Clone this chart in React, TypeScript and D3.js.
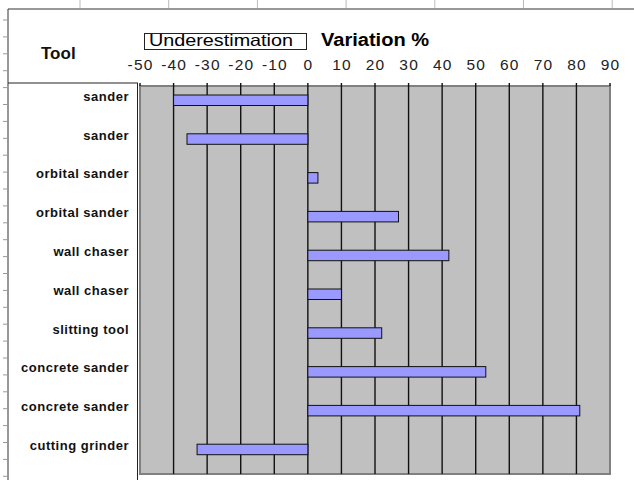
import React from 'react';
import * as d3 from 'd3';

// tools, top to bottom
const tools = [
  'sander',
  'sander',
  'orbital sander',
  'orbital sander',
  'wall chaser',
  'wall chaser',
  'slitting tool',
  'concrete sander',
  'concrete sander',
  'cutting grinder',
];

// variation % per tool
const variation = [-40, -36, 3, 27, 42, 10, 22, 53, 81, -33];

const xTicks = [-50, -40, -30, -20, -10, 0, 10, 20, 30, 40, 50, 60, 70, 80, 90];

const W = 634;
const H = 480;
const plot = { left: 140, right: 610, top: 86, bottom: 474 };
const font = 'Arial, "Liberation Sans", sans-serif';

const App = () => {
  const x = d3.scaleLinear().domain([-50, 90]).range([plot.left, plot.right]);
  const y = d3
    .scaleBand<number>()
    .domain(d3.range(tools.length))
    .range([plot.top, plot.bottom]);

  const barOffset = 9; // bars sit in the upper part of each band
  const barH = 10.5;

  return (
    <svg
      width={W}
      height={H}
      style={{ position: 'absolute', left: 0, top: 0, background: '#fff' }}
    >
      <rect x={0} y={0} width={W} height={H} fill="#fff" />

      {/* faint sheet ticks along top and left edges */}
      {d3.range(80, W, 88.7).map((t, i) => (
        <line key={'tt' + i} x1={t} x2={t} y1={0} y2={8} stroke="#bbb" />
      ))}
      {d3.range(20, H, 16.9).map((t, i) => (
        <line key={'lt' + i} x1={3} x2={7} y1={t} y2={t} stroke="#999" />
      ))}

      {/* outer frame */}
      <line x1={8} x2={W} y1={9} y2={9} stroke="#333" />
      <line x1={8} x2={8} y1={9} y2={H} stroke="#333" />

      {/* table cell for tool names */}
      <line x1={8} x2={138} y1={83} y2={83} stroke="#222" />
      <line x1={137.5} x2={137.5} y1={83} y2={H} stroke="#222" />

      {/* header texts */}
      <text x={41} y={59} fontFamily={font} fontSize={17} fontWeight="bold" fill="#111">
        Tool
      </text>
      <rect x={144.5} y={33.5} width={162} height={16} fill="#fff" stroke="#222" />
      <text
        x={149}
        y={46}
        fontFamily={font}
        fontSize={16.5}
        fill="#000"
        textLength={144}
        lengthAdjust="spacingAndGlyphs"
      >
        Underestimation
      </text>
      <text
        x={321}
        y={45.5}
        fontFamily={font}
        fontSize={18}
        fontWeight="bold"
        fill="#000"
        textLength={108}
        lengthAdjust="spacingAndGlyphs"
      >
        Variation %
      </text>

      {/* plot area */}
      <rect
        x={plot.left}
        y={plot.top}
        width={plot.right - plot.left}
        height={plot.bottom - plot.top}
        fill="#C0C0C0"
        stroke="#808080"
        strokeWidth={2}
      />

      {/* gridlines and tick marks */}
      {xTicks.map((t) => {
        const inner = t > -50 && t < 90;
        return (
          <line
            key={'g' + t}
            x1={x(t)}
            x2={x(t)}
            y1={83}
            y2={inner ? plot.bottom : plot.top}
            stroke="#111"
            strokeWidth={1.4}
          />
        );
      })}

      {/* tick labels */}
      {xTicks.map((t) => (
        <text
          key={'l' + t}
          x={x(t)}
          dx={0.6}
          y={70}
          textAnchor="middle"
          fontFamily={font}
          fontSize={15.5}
          letterSpacing={1.2}
          fill="#222"
        >
          {t}
        </text>
      ))}

      {/* bars */}
      {variation.map((v, i) => (
        <rect
          key={'b' + i}
          x={Math.min(x(0), x(v))}
          y={(y(i) as number) + barOffset}
          width={Math.abs(x(v) - x(0))}
          height={barH}
          fill="#9999FF"
          stroke="#111"
          strokeWidth={1}
        />
      ))}

      {/* tool labels */}
      {tools.map((name, i) => (
        <text
          key={'t' + i}
          x={129}
          y={(y(i) as number) + barOffset + barH / 2 - 4}
          dy="0.35em"
          textAnchor="end"
          fontFamily={font}
          fontSize={13}
          fontWeight="bold"
          letterSpacing={0.5}
          fill="#111"
        >
          {name}
        </text>
      ))}
    </svg>
  );
};

export default App;
